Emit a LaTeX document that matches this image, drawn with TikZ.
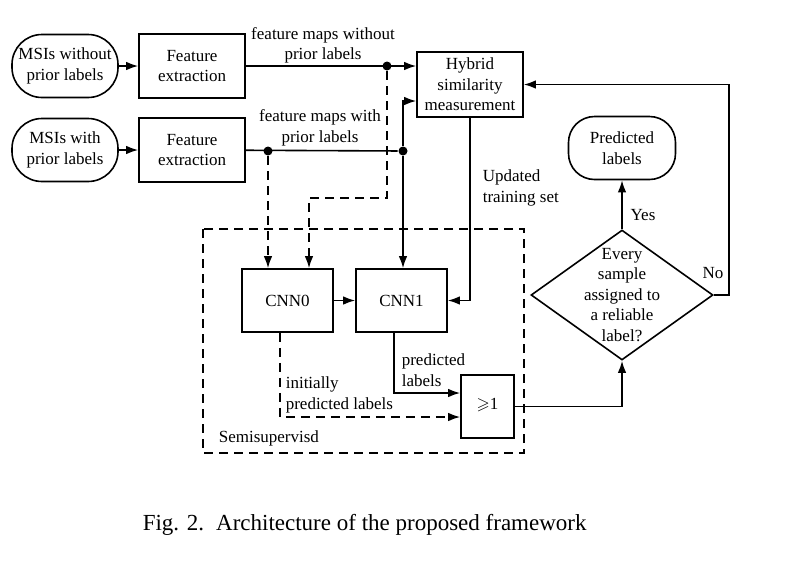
\documentclass[tikz,border=0pt]{standalone}
\usepackage{fontspec}
\setmainfont{Liberation Serif}
\usepackage{amsmath}
\usepackage{amssymb}
\usetikzlibrary{arrows.meta,positioning,shapes.geometric}

\begin{document}
\begin{tikzpicture}[x=1pt,y=-1pt,line width=1.6pt,
  arr/.style = {-{Latex[length=12pt,width=8.5pt]}},
  dsh/.style = {dash pattern=on 9pt off 6pt},
  term/.style = {draw,rounded corners=30pt,minimum width=106pt,minimum height=63pt,align=center,inner sep=0pt},
  block/.style = {draw,minimum width=106pt,minimum height=64pt,align=center,inner sep=0pt},
  cnn/.style = {draw,minimum width=91pt,minimum height=63pt,inner sep=0pt},
  dot/.style = {circle,fill,minimum size=9pt,inner sep=0pt},
  lbl/.style = {inner sep=0pt,align=center},
  font=\fontsize{17}{20.5}\selectfont]
\useasboundingbox (0,0) rectangle (786,566);

\node[term] (m1) at (65,66) {MSIs without\\prior labels};
\node[block] (f1) [right of=m1, node distance=127pt] {Feature\\extraction};
\node[term] (m2) [below of=m1, node distance=84pt] {MSIs with\\prior labels};
\node[block] (f2) [right of=m2, node distance=127pt] {Feature\\extraction};
\node[block,minimum height=65pt] (hy) at (470,84.5) {Hybrid\\similarity\\measurement};
\node[cnn] (c0) at (287.5,300.5) {CNN0};
\node[cnn] (c1) [right of=c0, node distance=114pt] {CNN1};
\node[draw,minimum width=53pt,minimum height=63pt,inner sep=0pt] (ge) at (487.5,406.5) {\raisebox{6pt}{$\geqslant$1}};
\node[term,minimum width=107pt,rounded corners=26pt] (pl) at (622,148) {Predicted\\labels};
\node[draw,diamond,minimum width=182pt,minimum height=130pt,inner sep=0pt] (ev) at (622,295) {};
\node[lbl] (evt) at (ev) {Every\\sample\\assigned to\\a reliable\\label?};

\node[dot] (d1) at (387,66) {};
\node[dot] (d2) at (268,151) {};
\node[dot] (d3) at (403,151) {};
\coordinate (k1) at (309,198);
\coordinate (nk) at (729,295);

% labels
\node[lbl] (l1) at (323,45.5) {feature maps without\\prior labels};
\node[lbl] (l2) at (320,128) {feature maps with\\prior labels};
\node[lbl,anchor=west,align=left] (l3) at (482,188) {Updated\\training set};
\node[lbl] (l4) at (643,215) {Yes};
\node[lbl] (l5) at (713,273) {No};
\node[lbl,anchor=west,align=left] (l6) at (401,370) {predicted\\labels};
\node[lbl,anchor=west,align=left] (l7) at (285,395) {initially\\predicted labels};
\node[lbl,anchor=west] (l8) at (218,438) {Semisupervisd};

\draw[dsh,line width=1.5pt] (203,229) rectangle (524,453);

\draw[arr] (m1) -- (f1);
\draw[arr] (m2) -- (f2);
\draw[arr] (f1) -- (hy.west |- f1);
\draw (f2) -- (d3);
\draw[arr] (d3) |- ([yshift=-16.5pt]hy.west);
\draw[arr] (d3) -- (c1.north -| d3);
\draw[arr,dsh] (d2) -- (c0.north -| d2);
\draw[arr,dsh] (d1) |- (k1) -- (k1 |- c0.north);
\draw[arr,dsh] (c0) -- (c1);
\draw[arr] (hy.south) |- (c1.east);
\draw[arr] ([xshift=-7.5pt]c1.south) |- ([yshift=13.5pt]ge.west);
\draw[arr,dsh] ([xshift=-7.5pt]c0.south) |- ([yshift=-10.5pt]ge.west);
\draw[arr] (ge.east) -| (ev.south);
\draw[arr] (ev.north) -- (pl.south);
\draw[arr] (ev.east) -- (nk) |- (hy.east);

\node[inner sep=0pt,anchor=west,font=\fontsize{23}{27}\selectfont] (cap) at (142,525) {Fig. 2.\hspace{12pt}Architecture of the proposed framework};
\end{tikzpicture}
\end{document}
